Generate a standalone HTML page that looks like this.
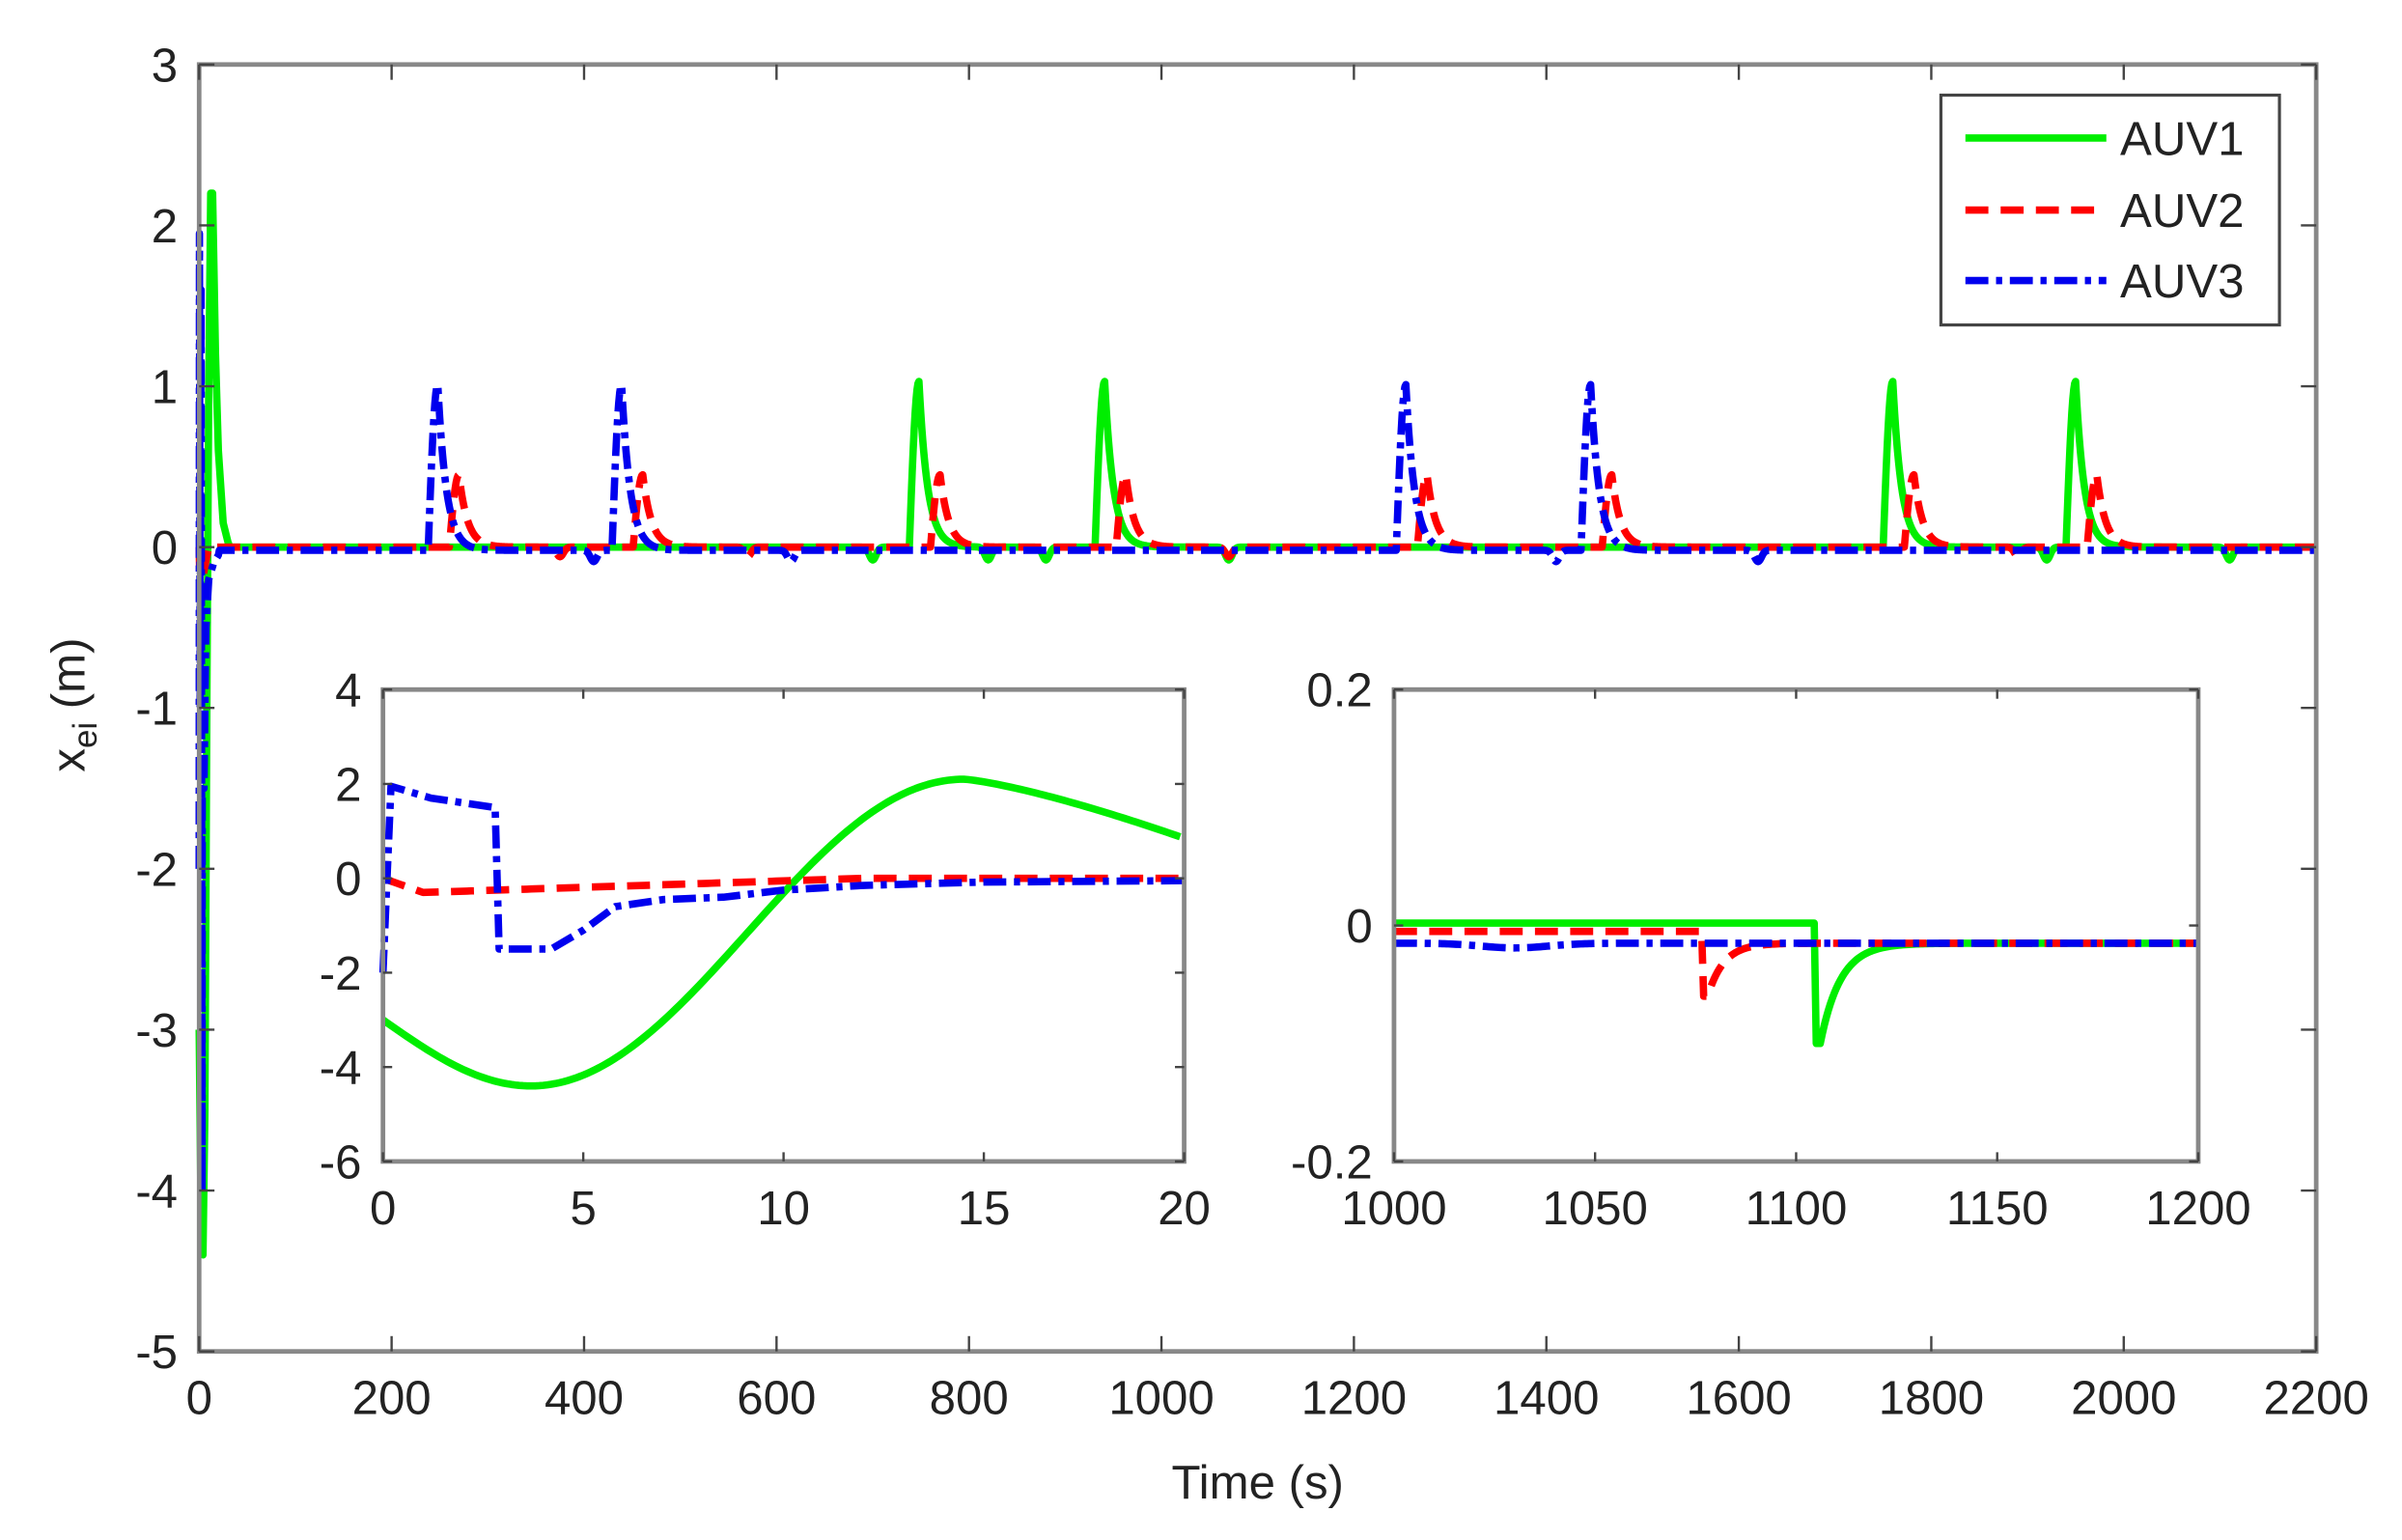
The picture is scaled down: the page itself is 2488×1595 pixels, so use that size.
<!DOCTYPE html>
<html><head><meta charset="utf-8"><style>
html,body{margin:0;padding:0;background:#fff;}
svg{display:block;}
text{font-family:"Liberation Sans",Arial,sans-serif;fill:#222;}
</style></head><body>
<svg id="s" width="2488" height="1595" viewBox="0 0 1568 1005" xmlns="http://www.w3.org/2000/svg">
<rect width="1568" height="1005" fill="#fff"/>
<g id="g"></g>
</svg>
<script>
const NS="http://www.w3.org/2000/svg",G=document.getElementById('g');
function el(t,a,txt){const e=document.createElementNS(NS,t);for(const k in a)e.setAttribute(k,a[k]);if(txt!==undefined)e.textContent=txt;G.appendChild(e);return e;}
function axes(L,R,T,B,x0,x1,y0,y1,xt,yt,lblx,lbly,tk){
  const X=v=>L+(v-x0)/(x1-x0)*(R-L),Y=v=>B-(v-y0)/(y1-y0)*(B-T);
  el('rect',{x:L,y:T,width:R-L,height:B-T,fill:'#fff'});
  return {X,Y,draw(){
    el('rect',{x:L,y:T,width:R-L,height:B-T,fill:'none',stroke:'#888','stroke-width':3});
    xt.forEach(v=>{const x=X(v);el('line',{x1:x,y1:B,x2:x,y2:B-tk,stroke:'#444','stroke-width':1.5});el('line',{x1:x,y1:T,x2:x,y2:T+tk,stroke:'#444','stroke-width':1.5});el('text',{x:x,y:B+lblx,'font-size':31,'text-anchor':'middle'},String(v));});
    yt.forEach(v=>{const y=Y(v);el('line',{x1:L,y1:y,x2:L+tk,y2:y,stroke:'#444','stroke-width':1.5});el('line',{x1:R,y1:y,x2:R-tk,y2:y,stroke:'#444','stroke-width':1.5});el('text',{x:L-lbly,y:y+11,'font-size':31,'text-anchor':'end'},String(v));});
  }};
}
function path(ax,pts,col,dash){
  let d=pts.map((p,i)=>(i?'L':'M')+ax.X(p[0]).toFixed(2)+' '+ax.Y(p[1]).toFixed(2)).join('');
  const a={d:d,fill:'none',stroke:col,'stroke-width':4.8,'stroke-linejoin':'round'};
  if(dash)a['stroke-dasharray']=dash;
  el('path',a);
}
const GR='#00ee00',RD='#ff0000',BL='#0000ee',DR='15 8',DD='15 5 4 5';
const M=axes(130,1512,42,882,0,2200,-5,3,[0,200,400,600,800,1000,1200,1400,1600,1800,2000,2200],[3,2,1,0,-1,-2,-3,-4,-5],41,14,10);
function pulse(t,t0,h){if(t<t0)return 0;const u=t-t0;if(u<10)return h*Math.sin(u/10*Math.PI/2);return h*Math.exp(-(u-10)/9);}
function dip(t,c,h){const u=(t-c)/5;return -h*Math.exp(-u*u);}
const gP=[738,931,1750,1940],bP=[238,429,1244,1436];
let gpts=[[0,-3],[2,-4.2],[4,-4.4],[6,-3.5],[8,-1],[10,1],[12,2.2],[14,2.2],[17,1.2],[20,0.6],[25,0.15],[30,0.03]];
for(let t=32;t<=2200;t+=1){let v=0;gP.forEach(s=>v+=pulse(t,s,1.03));[880,1070,1920,2110,700,820].forEach(c=>v+=dip(t,c,0.08));gpts.push([t,v]);}
let rpts=[[0,0],[1,-0.3],[5,-0.15],[10,0],[15,0]];
for(let t=16;t<=2200;t+=1){let v=0;[...bP,...gP].forEach(s=>v+=pulse(t,s+22,0.45));[375,570,1070,1890].forEach(c=>v+=dip(t,c,0.06));rpts.push([t,v]);}
let bpts=[[0,-2],[0.3,1.95],[1,-1],[2,1.6],[3,-4],[3.2,-1.5],[5,-1.5],[7,-0.5],[10,-0.2],[15,-0.1],[20,-0.05]];
for(let t=21;t<=2200;t+=1){let v=-0.02;bP.forEach(s=>v+=pulse(t,s,1.03));[410,1410,615,1620].forEach(c=>v+=dip(t,c,0.07));bpts.push([t,v]);}
path(M,gpts,GR);path(M,rpts,RD,DR);path(M,bpts,BL,DD);
M.draw();
el('text',{x:821,y:978,'font-size':31,'text-anchor':'middle'},'Time (s)');
const yl=el('text',{x:0,y:0,'font-size':31,'text-anchor':'middle',transform:'translate(55,460) rotate(-90)'});
yl.innerHTML='x<tspan font-size="22" dy="8">ei</tspan><tspan dy="-8"> (m)</tspan>';
el('rect',{x:1267,y:62,width:221,height:150,fill:'#fff',stroke:'#444','stroke-width':2});
[[GR,'',90,'AUV1'],[RD,DR,137,'AUV2'],[BL,DD,183,'AUV3']].forEach(a=>{const o={x1:1283,y1:a[2],x2:1375,y2:a[2],stroke:a[0],'stroke-width':4.8};if(a[1])o['stroke-dasharray']=a[1];el('line',o);el('text',{x:1384,y:a[2]+11,'font-size':31},a[3]);});
const I1=axes(250,773,450,758,0,20,-6,4,[0,5,10,15,20],[4,2,0,-2,-4,-6],41,14,6);
const g1=[],r1=[],b1=[];
for(let t=0;t<=20;t+=0.1){
  const gv=t<3.7?-3-1.4*Math.sin(t/3.7*Math.PI/2):(t<14.5? -4.4+6.5*(1-Math.cos((t-3.7)/10.8*Math.PI))/2 : 2.1-1.25*Math.pow((t-14.5)/5.5,1.3));
  g1.push([t,gv]);
  r1.push([t,t<1?-0.3*t:-0.3*Math.max(0,1-(t-1)/11)]);
}
b1.push([0,-2],[0.2,1.95],[1.2,1.7],[2.8,1.5],[2.9,-1.5],[4.2,-1.5],[5,-1.1],[5.8,-0.6],[7,-0.45],[8.5,-0.4],[10,-0.25],[12,-0.15],[15,-0.08],[20,-0.05]);
path(I1,g1,GR);path(I1,r1,RD,DR);path(I1,b1,BL,DD);I1.draw();
const I2=axes(910,1435,450,758,1000,1200,-0.2,0.2,[1000,1050,1100,1150,1200],[0.2,0,-0.2],41,14,6);
const g2=[],r2=[],b2=[];
for(let t=1000;t<=1200;t+=0.5){
  g2.push([t,t<1105?0.002:(t<1106?-0.1:-0.015-0.085*Math.exp(-(t-1106)/5))]);
  r2.push([t,t<1077?-0.005:(t<1078?-0.06:-0.015-0.045*Math.exp(-(t-1078)/4))]);
  b2.push([t,-0.015-0.004*Math.exp(-Math.pow((t-1030)/12,2))]);
}
path(I2,g2,GR);path(I2,r2,RD,DR);path(I2,b2,BL,DD);I2.draw();
</script>
</body></html>
